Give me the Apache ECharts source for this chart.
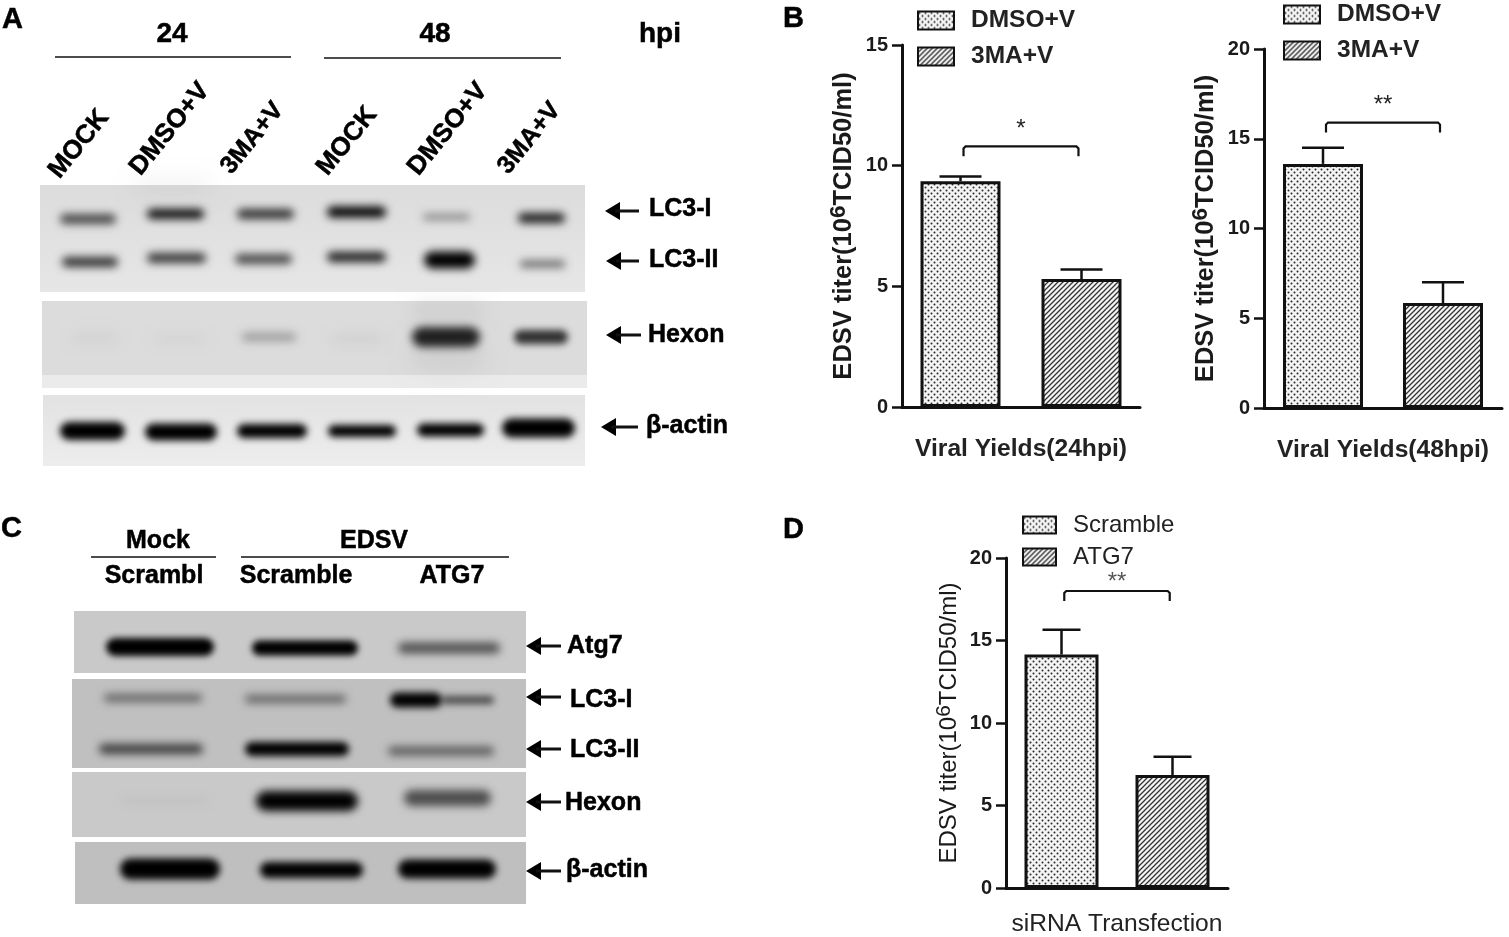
<!DOCTYPE html>
<html><head><meta charset="utf-8">
<style>html,body{margin:0;padding:0;background:#fff}#c{width:1509px;height:937px}</style>
<script src="https://cdn.jsdelivr.net/npm/echarts@6/dist/echarts.min.js"></script>
</head><body><div id="c"></div>
<script>
// ---- chart data ----
const seriesB = ['DMSO+V', '3MA+V'];
const seriesD = ['Scramble', 'ATG7'];
const yields24 = [9.35, 5.3];
const yields24Upper = [9.55, 5.7];
const yields48 = [13.6, 5.85];
const yields48Upper = [14.5, 7.0];
const sirna = [14.15, 6.85];
const sirnaUpper = [15.65, 7.95];
const catB1 = ['Viral Yields(24hpi)'];
const catB2 = ['Viral Yields(48hpi)'];
const catD = ['siRNA Transfection'];
const sig = ['*', '**', '**'];
const sigLevel = [10.8, 15.9, 18];
// ---- blot band densities (0-1) ----
const aLc3i = [.68, .95, .78, 1, .42, .88];
const aLc3ii = [.78, .76, .68, .88, 1, .55];
const aHexon = [.04, .035, .35, .05, .85, .78];
const aActin = [1, 1, 1, 1, 1, 1];
const cAtg7 = [1, 1, .6];
const cLc3i = [.48, .48, 1, .62];
const cLc3ii = [.68, 1, .52];
const cHexon = [.06, 1, .62];
const cActin = [1, 1, 1];

const FONT = 'Liberation Sans';
function pattern(kind) {
  const c = document.createElement('canvas');
  const g = c.getContext('2d');
  if (kind === 'dots') {
    c.width = c.height = 6;
    g.fillStyle = '#f4f4f4'; g.fillRect(0, 0, 6, 6);
    g.fillStyle = '#2a2a2a';
    g.beginPath(); g.arc(1.5, 1.5, 1, 0, 7); g.arc(4.5, 4.5, 1, 0, 7); g.fill();
  } else {
    c.width = c.height = 5;
    g.fillStyle = '#f4f4f4'; g.fillRect(0, 0, 5, 5);
    g.strokeStyle = '#333'; g.lineWidth = 1.3;
    g.beginPath();
    g.moveTo(-1, 6); g.lineTo(6, -1); g.moveTo(-1, 1); g.lineTo(1, -1); g.moveTo(4, 6); g.lineTo(6, 4);
    g.stroke();
  }
  return { image: c, repeat: 'repeat' };
}
const dots = pattern('dots'), hatch = pattern('hatch');

const panels = [
  { left: 902, top: 45, width: 238, height: 362, max: 15, bw: 80, gap: 41, cap: 42, cat: catB1, names: seriesB, vals: yields24, up: yields24Upper, sig: 0, sigOff: 17, nameGap: 41, size: 25.5, xsize: 24.6, xm: 30, weight: 'bold', legend: [912, 3], lw: 36, lh: 18, lf: 24.5, lgap: 11 },
  { left: 1264, top: 49, width: 238, height: 359, max: 20, bw: 80, gap: 40, cap: 42, cat: catB2, names: seriesB, vals: yields48, up: yields48Upper, sig: 1, sigOff: 17, nameGap: 41, size: 25.5, xsize: 24.6, xm: 30, weight: 'bold', legend: [1278, -3], lw: 36, lh: 18, lf: 24.5, lgap: 11 },
  { left: 1006, top: 558, width: 222, height: 331, max: 20, bw: 74, gap: 37, cap: 38, cat: catD, names: seriesD, vals: sirna, up: sirnaUpper, sig: 2, sigOff: 9, nameGap: 39, size: 24, xsize: 24.6, xm: 24, weight: 'normal', legend: [1017, 508], lw: 33, lh: 17, lf: 24, lgap: 8 }
];

const grid = [], xAxis = [], yAxis = [], series = [], legend = [];
panels.forEach((p, i) => {
  grid.push({ left: p.left, top: p.top, width: p.width, height: p.height });
  xAxis.push({
    type: 'category', gridIndex: i, data: p.cat,
    axisLine: { lineStyle: { color: '#111', width: 3 } },
    axisTick: { alignWithLabel: true, length: 7, lineStyle: { color: '#111', width: 2 } },
    axisLabel: { color: '#222', fontFamily: FONT, fontSize: p.xsize, fontWeight: p.weight, margin: p.xm, interval: 0 }
  });
  yAxis.push({
    type: 'value', gridIndex: i, min: 0, max: p.max, interval: 5,
    name: '{a|EDSV titer(10}{s|6}{a|TCID50/ml)}',
    nameLocation: 'middle', nameGap: p.nameGap,
    nameTextStyle: {
      rich: {
        a: { fontFamily: FONT, fontSize: p.size, lineHeight: p.size + 8, height: p.size + 8, verticalAlign: 'bottom', fontWeight: p.weight, color: '#1a1a1a' },
        s: { fontFamily: FONT, fontSize: p.size - 3, lineHeight: p.size - 3, verticalAlign: 'top', fontWeight: p.weight, color: '#1a1a1a' }
      }
    },
    splitLine: { show: false },
    axisLine: { show: true, lineStyle: { color: '#111', width: 3 } },
    axisTick: { show: true, length: 10, lineStyle: { color: '#111', width: 2.5 } },
    axisLabel: { color: '#1a1a1a', fontFamily: FONT, fontSize: 20, fontWeight: 'bold', margin: 14 }
  });
  const gapPct = (p.gap / p.bw * 100) + '%';
  p.names.forEach((n, k) => {
    series.push({
      type: 'bar', name: n, xAxisIndex: i, yAxisIndex: i,
      data: [p.vals[k]], barWidth: p.bw, barGap: gapPct,
      itemStyle: { color: k === 0 ? dots : hatch, borderColor: '#111', borderWidth: 3 },
      emphasis: { disabled: true }, silent: true, z: 3
    });
  });
  // error bars
  series.push({
    type: 'custom', xAxisIndex: i, yAxisIndex: i, silent: true, z: 2, clip: false,
    data: p.vals.map((v, k) => [0, v, p.up[k], k]),
    encode: { x: 0, y: [1, 2] },
    renderItem(params, api) {
      const off = (api.value(3) === 0 ? -1 : 1) * (p.bw + p.gap) / 2;
      const lo = api.coord([0, api.value(1)]), hi = api.coord([0, api.value(2)]);
      const x = lo[0] + off, st = { stroke: '#111', lineWidth: 2.5 };
      return { type: 'group', children: [
        { type: 'line', shape: { x1: x, y1: lo[1], x2: x, y2: hi[1] }, style: st },
        { type: 'line', shape: { x1: x - p.cap / 2, y1: hi[1], x2: x + p.cap / 2, y2: hi[1] }, style: st }
      ] };
    }
  });
  // significance bracket
  series.push({
    type: 'custom', xAxisIndex: i, yAxisIndex: i, silent: true, z: 4, clip: false,
    data: [[0, sigLevel[p.sig]]],
    encode: { x: 0, y: 1 },
    renderItem(params, api) {
      const c = api.coord([0, api.value(1)]);
      const half = (p.bw + p.gap) / 2 * 0.95;
      return { type: 'group', children: [
        { type: 'polyline', shape: { points: [[c[0] - half, c[1] + 10], [c[0] - half, c[1] + 2], [c[0] - half + 2, c[1]], [c[0] + half - 2, c[1]], [c[0] + half, c[1] + 2], [c[0] + half, c[1] + 10]] },
          style: { stroke: '#111', lineWidth: 2.2, fill: 'none' } },
        { type: 'text', style: { text: sig[p.sig], x: c[0], y: c[1] - p.sigOff, align: 'center', verticalAlign: 'middle', fontFamily: FONT, fontSize: 24, fill: i === 2 ? '#555' : '#222' } }
      ] };
    }
  });
  legend.push({
    show: true, orient: 'vertical', left: p.legend[0], top: p.legend[1], icon: 'rect',
    data: p.names, itemWidth: p.lw, itemHeight: p.lh, itemGap: p.lgap, selectedMode: false,
    textStyle: { fontFamily: FONT, fontSize: p.lf, color: '#222', padding: [0, 0, 0, 12], fontWeight: p.weight }
  });
});

// ---- non-chart artwork: blots and annotations ----
const OFF = 3000;
const g = [];
function bg(x, y, w, h, fill) { g.push({ type: 'rect', shape: { x, y, width: w, height: h }, style: { fill }, silent: true, z: 1 }); }
function band(x1, x2, y, h, d, blur) {
  g.push({ type: 'rect', shape: { x: x1 - OFF, y: y - h / 2, width: x2 - x1, height: h, r: h / 2 },
    style: { fill: '#000', shadowBlur: blur || 9, shadowColor: 'rgba(0,0,0,' + d + ')', shadowOffsetX: OFF }, silent: true, z: 2 });
}
function row(layout, dens) { layout.forEach((l, i) => band(l[0], l[1], l[2], l[3], dens[i], l[4])); }
function vgrad(a, b) { return new echarts.graphic.LinearGradient(0, 0, 0, 1, [{ offset: 0, color: a }, { offset: 1, color: b }]); }
function txt(text, x, y, size, o) {
  o = o || {};
  g.push({ type: 'text', x, y: y + 1, rotation: o.rot || 0, scaleX: o.sx || 1, silent: true, z: 5,
    style: { text, x: 0, y: 0, align: o.align || 'left', verticalAlign: o.va || 'middle', fontFamily: FONT, fontWeight: o.w || 'bold', fontSize: size, fill: o.c || '#000', stroke: '#000', lineWidth: .5 } });
}
function line(x1, y1, x2, y2, w) { g.push({ type: 'line', shape: { x1, y1, x2, y2 }, style: { stroke: '#111', lineWidth: w || 1.5 }, silent: true, z: 5 }); }
function arrow(tip, tail, y) {
  g.push({ type: 'polygon', shape: { points: [[tip, y], [tip + 15, y - 9], [tip + 15, y + 9]] }, style: { fill: '#000' }, silent: true, z: 5 });
  line(tip + 10, y, tail, y, 3);
}

// Panel A blots
bg(40, 185, 545, 107, vgrad('#dcdcdc', '#e6e6e6'));
bg(42, 301, 545, 74, '#dcdcdc');
bg(42, 375, 545, 13, '#ebebeb');
bg(43, 395, 542, 71, vgrad('#e2e2e2', '#ededed'));
band(135, 210, 186, 14, .05, 20); band(410, 485, 355, 30, .06, 22); band(410, 485, 310, 20, .05, 16);
row([[60, 116, 219, 10], [147, 204, 214, 10], [237, 294, 214, 10], [327, 386, 212, 11], [423, 470, 217, 6], [518, 565, 218, 10]], aLc3i);
row([[62, 118, 262, 10], [147, 206, 258, 10], [235, 292, 259, 10], [327, 386, 257, 10], [424, 475, 260, 17, 8], [520, 565, 264, 7]], aLc3ii);
row([[72, 118, 338, 12, 12], [155, 205, 339, 10, 12], [242, 296, 337, 7, 10], [332, 384, 339, 10, 12], [412, 480, 337, 20, 8], [514, 568, 337, 14, 7]], aHexon);
row([[60, 125, 431, 18, 7], [145, 217, 432, 17, 7], [237, 307, 431, 14, 7], [328, 396, 431, 12, 7], [417, 484, 430, 13, 7], [502, 575, 428, 19, 7]], aActin);

// Panel C blots
bg(74, 611, 452, 62, '#c9c9c9');
bg(72, 679, 454, 89, '#c0c0c0');
bg(72, 772, 454, 65, '#c9c9c9');
bg(75, 842, 451, 62, '#bfbfbf');
row([[106, 214, 647, 18, 6], [252, 358, 648, 15, 6], [398, 500, 648, 11, 8]], cAtg7);
row([[104, 202, 698, 8, 8], [245, 346, 699, 8, 8], [390, 442, 700, 15, 7], [442, 494, 700, 8, 7]], cLc3i);
row([[99, 203, 749, 10, 8], [245, 349, 749, 14, 7], [388, 494, 751, 9, 8]], cLc3ii);
row([[122, 208, 801, 4, 8], [256, 358, 801, 20, 8], [404, 491, 798, 16, 9]], cHexon);
row([[120, 220, 869, 21, 7], [260, 363, 870, 16, 7], [398, 496, 869, 19, 7]], cActin);

// Panel letters
txt('A', 2, 19, 29); txt('B', 783, 18, 29); txt('C', 1, 528, 29); txt('D', 783, 529, 29);
// Panel A text
txt('24', 172, 33, 28, { align: 'center' }); txt('48', 435, 33, 28, { align: 'center' });
txt('hpi', 660, 33, 28, { align: 'center' });
line(55, 57, 291, 57); line(324, 58, 561, 58);
const rot = 51 * Math.PI / 180;
[['MOCK', 54, 174, 26], ['DMSO+V', 135, 171, 26], ['3MA+V', 226, 170, 25], ['MOCK', 322, 171, 26], ['DMSO+V', 413, 171, 26], ['3MA+V', 503, 170, 25]]
  .forEach(t => txt(t[0], t[1], t[2], t[3], { rot }));
[[605, 639, 211], [606, 639, 261], [606, 641, 335], [601, 638, 427]].forEach(a => arrow(a[0], a[1], a[2]));
txt('LC3-I', 649, 208, 25); txt('LC3-II', 649, 259, 25); txt('Hexon', 648, 334, 25); txt('β-actin', 646, 425, 25);
// Panel C text
txt('Mock', 158, 540, 25, { align: 'center' }); txt('EDSV', 374, 540, 25, { align: 'center' });
line(91, 557, 216, 557); line(241, 557, 509, 557);
txt('Scrambl', 154, 575, 25, { align: 'center' }); txt('Scramble', 296, 575, 25, { align: 'center' }); txt('ATG7', 452, 575, 25, { align: 'center' });
[646, 697, 749, 802, 871].forEach(y => arrow(526, 561, y));
txt('Atg7', 567, 645, 25); txt('LC3-I', 570, 699, 25); txt('LC3-II', 570, 749, 25); txt('Hexon', 565, 802, 25); txt('β-actin', 566, 869, 25);

const chart = echarts.init(document.getElementById('c'));
chart.setOption({
  animation: false, backgroundColor: '#fff',
  grid, xAxis, yAxis, series, legend, graphic: { elements: g }
});
</script></body></html>
